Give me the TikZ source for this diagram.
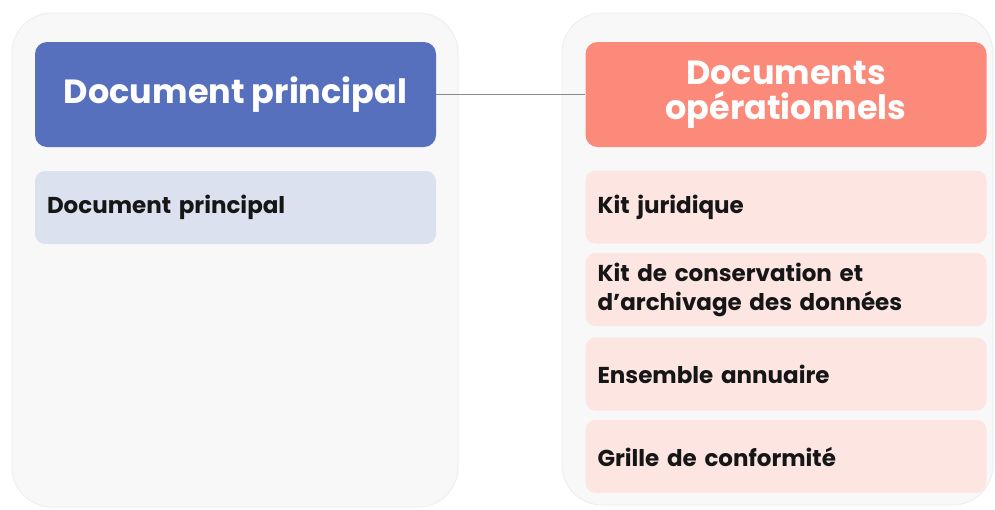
\documentclass[tikz,border=0pt]{standalone}
\usepackage{fontspec}
\setmainfont{Poppins}
\definecolor{panelbg}{HTML}{F8F8F9}
\definecolor{panelline}{HTML}{EFEFF1}
\definecolor{bluehead}{HTML}{5770BE}
\definecolor{blueitem}{HTML}{DCE1F0}
\definecolor{salmonhead}{HTML}{FB8A7A}
\definecolor{pinkitem}{HTML}{FDE5E2}
\definecolor{linkgray}{HTML}{8A8A8A}
\definecolor{itemtext}{HTML}{161616}
\begin{document}
\begin{tikzpicture}[x=1pt,y=-1pt,
  panel/.style={draw=panelline, line width=1pt, fill=panelbg, rounded corners=40pt, inner sep=0pt},
  headbox/.style={rounded corners=12pt, inner sep=0pt, minimum width=401pt, minimum height=105pt,
    text=white, font=\bfseries\fontsize{33.5}{35}\selectfont, align=center},
  itembox/.style={rounded corners=10pt, inner sep=0pt, minimum width=401pt, minimum height=73pt,
    text=itemtext, font=\bfseries\fontsize{23}{29}\selectfont, align=left, text width=377pt},
  link/.style={draw=linkgray, line width=1.5pt}]
\useasboundingbox (0,0) rectangle (995,509);
\fill[white] (0,0) rectangle (995,509);
% panels
\node[panel, minimum width=446pt, minimum height=494pt] (pl) at (235,260) {};
\node[panel, minimum width=431pt, minimum height=492pt] (pr) at (777.5,259) {};
% headers
\node[headbox, fill=bluehead] (hl) at (235.5,94.5) {Document principal};
\node[headbox, fill=salmonhead] (hr) at (786,94.5) {Documents\\opérationnels};
% items
\node[itembox, fill=blueitem] (il1) at (235.5,207.5) {Document principal};
\node[itembox, fill=pinkitem] (ir1) at (786,207) {Kit juridique};
\node[itembox, fill=pinkitem] (ir2) at (786,289.5) {Kit de conservation et\\d’archivage des données};
\node[itembox, fill=pinkitem] (ir3) at (786,374) {Ensemble annuaire};
\node[itembox, fill=pinkitem] (ir4) at (786,456.5) {Grille de conformité};
% connector
\draw[link] (hl.east) -- (hr.west);
\end{tikzpicture}
\end{document}
